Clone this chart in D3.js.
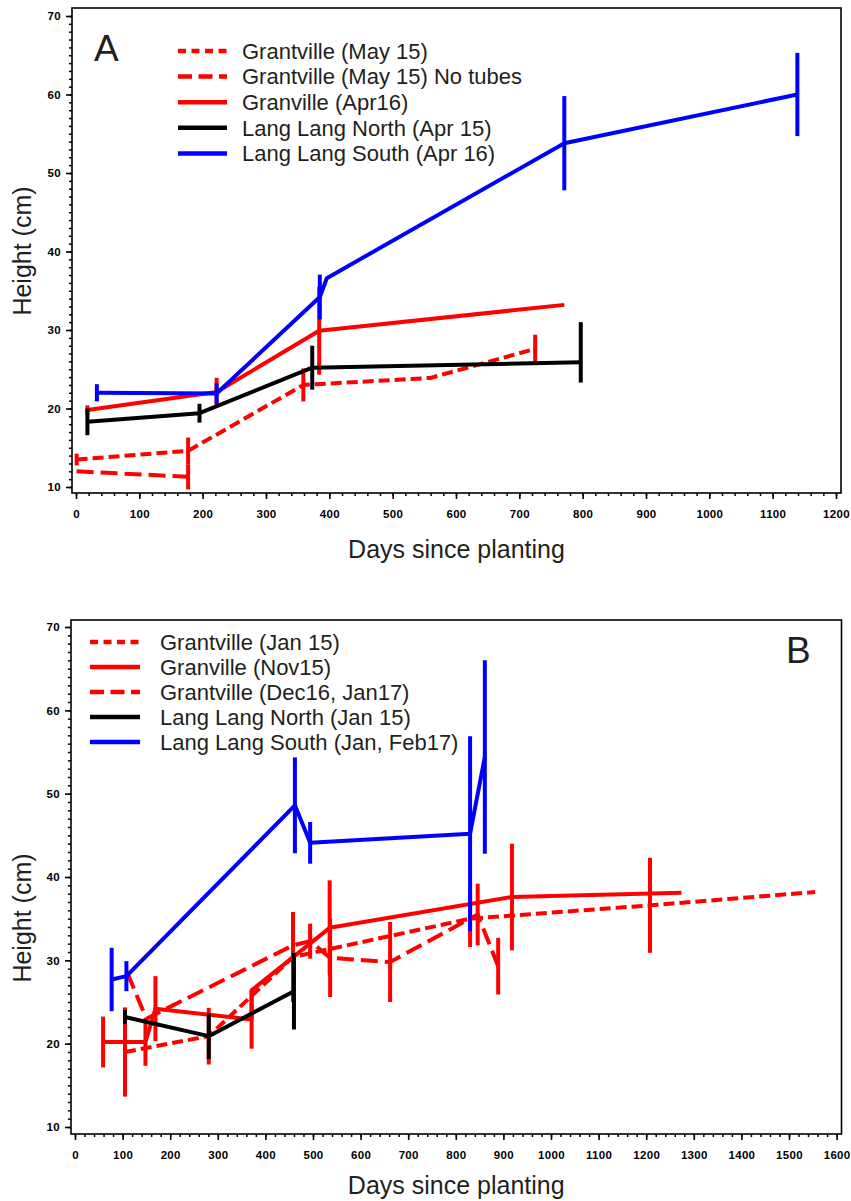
<!DOCTYPE html>
<html><head><meta charset="utf-8">
<script src="https://cdn.jsdelivr.net/npm/d3@7"></script>
<style>
body{margin:0;background:#fff}
text{font-family:"Liberation Sans",Arial,sans-serif}
</style></head><body>
<svg id="c" width="851" height="1201"></svg>
<script>
// ---------- Panel A data ----------
const aLabels = ["Grantville (May 15)", "Grantville (May 15) No tubes", "Granville (Apr16)", "Lang Lang North (Apr 15)", "Lang Lang South (Apr 16)"];
const aMay15Days = [1, 177, 359, 560, 725];
const aMay15H    = [13.5, 14.6, 23.0, 23.9, 27.6];
const aMay15Err  = [0.75, 1.7, 2.1, 0.2, 1.8];
const aNoTubeDays = [1, 177];
const aNoTubeH    = [12.0, 11.3];
const aNoTubeErr  = [0, 1.6];
const aGranDays = [18, 222, 384, 771];
const aGranH    = [19.8, 22.1, 29.9, 33.2];
const aGranErr  = [0.6, 1.8, 5.6, 0];
const aLLNDays = [18, 195, 373, 797];
const aLLNH    = [18.3, 19.4, 25.2, 25.9];
const aLLNErr  = [1.7, 1.2, 2.8, 5.1];
const aLLNErrLo = [1.7, 1.2, 2.8, 2.6];
const aLLSDays = [33, 222, 385, 396, 771, 1139];
const aLLSH    = [22.0, 21.9, 34.2, 36.6, 53.8, 60.0];
const aLLSErr  = [1.1, 1.3, 2.85, 0, 6.0, 5.3];

// ---------- Panel B data ----------
const bLabels = ["Grantville (Jan 15)", "Granville (Nov15)", "Grantville (Dec16, Jan17)", "Lang Lang North (Jan 15)", "Lang Lang South (Jan, Feb17)"];
const bJan15Days = [105, 281, 458, 830, 1208, 1555];
const bJan15H    = [19.0, 20.9, 30.4, 35.0, 36.6, 38.2];
const bJan15Err  = [5.35, 3.4, 5.4, 3.4, 5.7, 0];
const bNov15Days = [59, 148, 169, 371, 371, 535, 918, 1274];
const bNov15H    = [20.2, 20.2, 24.2, 22.9, 26.4, 33.9, 37.6, 38.1];
const bNov15Err  = [3.05, 2.85, 3.9, 3.5, 0, 5.7, 6.4, 0];
const bDec16Days = [110, 150, 458, 494, 536, 662, 846, 889];
const bDec16H    = [28.5, 23.0, 31.8, 32.3, 30.3, 29.8, 35.5, 29.3];
const bDec16Err  = [0, 0, 0, 2.1, 4.7, 4.8, 3.7, 3.4];
const bLLNDays = [105, 281, 460];
const bLLNH    = [23.2, 20.9, 26.3];
const bLLNErr  = [0.85, 2.75, 4.6];
const bLLSDays = [77, 108, 462, 494, 830, 861];
const bLLSH    = [27.7, 28.1, 48.6, 44.1, 45.2, 54.4];
const bLLSErr  = [3.8, 1.8, 5.75, 2.5, 11.7, 11.6];

// axis ticks
const aXTicks = d3.range(0, 1201, 100);
const bXTicks = d3.range(0, 1601, 100);
const yTicks = d3.range(10, 71, 10);

const RED = "#ff0000", BLUE = "#0000ff", BLACK = "#000000";
// dash styles: [in plot, in legend]
const DOT = ["11,5", "8,5.5"], DASH = ["17,7", "14,6.5"];

const zip = (d, h, e, lo) => d.map((v, i) => ({x: v, y: h[i], e: e[i], lo: (lo || e)[i]}));

const panels = [
  {
    frame: [72, 8, 841, 493],
    x: d3.scaleLinear().domain([0, 1200]).range([76, 836]),
    y: d3.scaleLinear().domain([10, 70]).range([487, 16]),
    xTicks: aXTicks,
    letter: "A", letterPos: [94, 61],
    legend: {x0: 178, x1: 227, tx: 242, y0: 51, dy: 25.6},
    ytitle: 251, xtitle: 558,
    series: [
      {label: aLabels[0], color: RED, dash: DOT, pts: zip(aMay15Days, aMay15H, aMay15Err)},
      {label: aLabels[1], color: RED, dash: DASH, pts: zip(aNoTubeDays, aNoTubeH, aNoTubeErr)},
      {label: aLabels[2], color: RED, dash: null, pts: zip(aGranDays, aGranH, aGranErr)},
      {label: aLabels[3], color: BLACK, dash: null, pts: zip(aLLNDays, aLLNH, aLLNErr, aLLNErrLo)},
      {label: aLabels[4], color: BLUE, dash: null, pts: zip(aLLSDays, aLLSH, aLLSErr)}
    ]
  },
  {
    frame: [71, 620, 841.5, 1134],
    x: d3.scaleLinear().domain([0, 1600]).range([75, 836.6]),
    y: d3.scaleLinear().domain([10, 70]).range([1127, 627]),
    xTicks: bXTicks,
    letter: "B", letterPos: [786, 663],
    legend: {x0: 90, x1: 140, tx: 160, y0: 642, dy: 25},
    ytitle: 918, xtitle: 1194,
    series: [
      {label: bLabels[0], color: RED, dash: DOT, pts: zip(bJan15Days, bJan15H, bJan15Err)},
      {label: bLabels[1], color: RED, dash: null, pts: zip(bNov15Days, bNov15H, bNov15Err)},
      {label: bLabels[2], color: RED, dash: DASH, pts: zip(bDec16Days, bDec16H, bDec16Err)},
      {label: bLabels[3], color: BLACK, dash: null, pts: zip(bLLNDays, bLLNH, bLLNErr)},
      {label: bLabels[4], color: BLUE, dash: null, pts: zip(bLLSDays, bLLSH, bLLSErr)}
    ]
  }
];

const svg = d3.select("#c");
svg.append("rect").attr("width", 851).attr("height", 1201).attr("fill", "#fff");

panels.forEach(p => {
  const g = svg.append("g");
  const [fx0, fy0, fx1, fy1] = p.frame;
  g.append("rect").attr("x", fx0).attr("y", fy0).attr("width", fx1 - fx0).attr("height", fy1 - fy0)
    .attr("fill", "none").attr("stroke", "#000").attr("stroke-width", 1.6);

  // minor ticks
  const xMinor = d3.range(0, p.x.domain()[1] + 1, 20);
  g.append("g").attr("transform", `translate(0,${fy1})`)
    .call(d3.axisBottom(p.x).tickValues(xMinor).tickSize(3).tickFormat(""))
    .call(s => s.select(".domain").remove())
    .selectAll("line").attr("stroke-width", 1.5);
  g.append("g").attr("transform", `translate(${fx0},0)`)
    .call(d3.axisLeft(p.y).tickValues(d3.range(10, 71, 1)).tickSize(3).tickFormat(""))
    .call(s => s.select(".domain").remove())
    .selectAll("line").attr("stroke-width", 1.5);
  // major ticks
  const xa = g.append("g").attr("transform", `translate(0,${fy1})`)
    .call(d3.axisBottom(p.x).tickValues(p.xTicks).tickSize(6).tickPadding(11).tickFormat(d3.format("d")));
  xa.select(".domain").remove();
  xa.selectAll("line").attr("stroke-width", 1.6);
  xa.selectAll("text").attr("font-size", 11.5).attr("font-weight", "bold").attr("fill", "#000")
    .attr("letter-spacing", 0.3)
    .style("font-family", '"Liberation Sans",Arial,sans-serif');
  const ya = g.append("g").attr("transform", `translate(${fx0},0)`)
    .call(d3.axisLeft(p.y).tickValues(yTicks).tickSize(6).tickPadding(5));
  ya.select(".domain").remove();
  ya.selectAll("line").attr("stroke-width", 1.6);
  ya.selectAll("text").attr("font-size", 11.5).attr("font-weight", "bold").attr("fill", "#000")
    .attr("letter-spacing", 0.3)
    .style("font-family", '"Liberation Sans",Arial,sans-serif');

  // axis titles
  const cx = (fx0 + fx1) / 2;
  g.append("text").attr("x", cx).attr("y", p.xtitle).attr("text-anchor", "middle")
    .attr("font-size", 25).attr("fill", "#231f20").text("Days since planting");
  g.append("text").attr("transform", `translate(31,${p.ytitle}) rotate(-90)`).attr("text-anchor", "middle")
    .attr("font-size", 25).attr("fill", "#231f20").text("Height (cm)");

  // panel letter
  g.append("text").attr("x", p.letterPos[0]).attr("y", p.letterPos[1])
    .attr("font-size", 37).attr("fill", "#231f20").text(p.letter);

  // data
  const line = d3.line().x(d => p.x(d.x)).y(d => p.y(d.y));
  p.series.forEach(s => {
    const sg = g.append("g");
    sg.append("path").datum(s.pts).attr("d", line).attr("fill", "none")
      .attr("stroke", s.color).attr("stroke-width", 4)
      .attr("stroke-dasharray", s.dash ? s.dash[0] : null).attr("stroke-linejoin", "round");
    sg.selectAll("line.err").data(s.pts.filter(d => d.e > 0)).join("line")
      .attr("x1", d => p.x(d.x)).attr("x2", d => p.x(d.x))
      .attr("y1", d => p.y(d.y - d.lo)).attr("y2", d => p.y(d.y + d.e))
      .attr("stroke", s.color).attr("stroke-width", 4);
  });

  // legend
  const L = p.legend;
  p.series.forEach((s, i) => {
    const yy = L.y0 + i * L.dy;
    g.append("line").attr("x1", L.x0).attr("x2", L.x1).attr("y1", yy).attr("y2", yy)
      .attr("stroke", s.color).attr("stroke-width", 4.5).attr("stroke-dasharray", s.dash ? s.dash[1] : null);
    g.append("text").attr("x", L.tx).attr("y", yy).attr("dy", "0.35em")
      .attr("font-size", 22).attr("fill", "#231f20").text(s.label);
  });
});
</script>
</body></html>
